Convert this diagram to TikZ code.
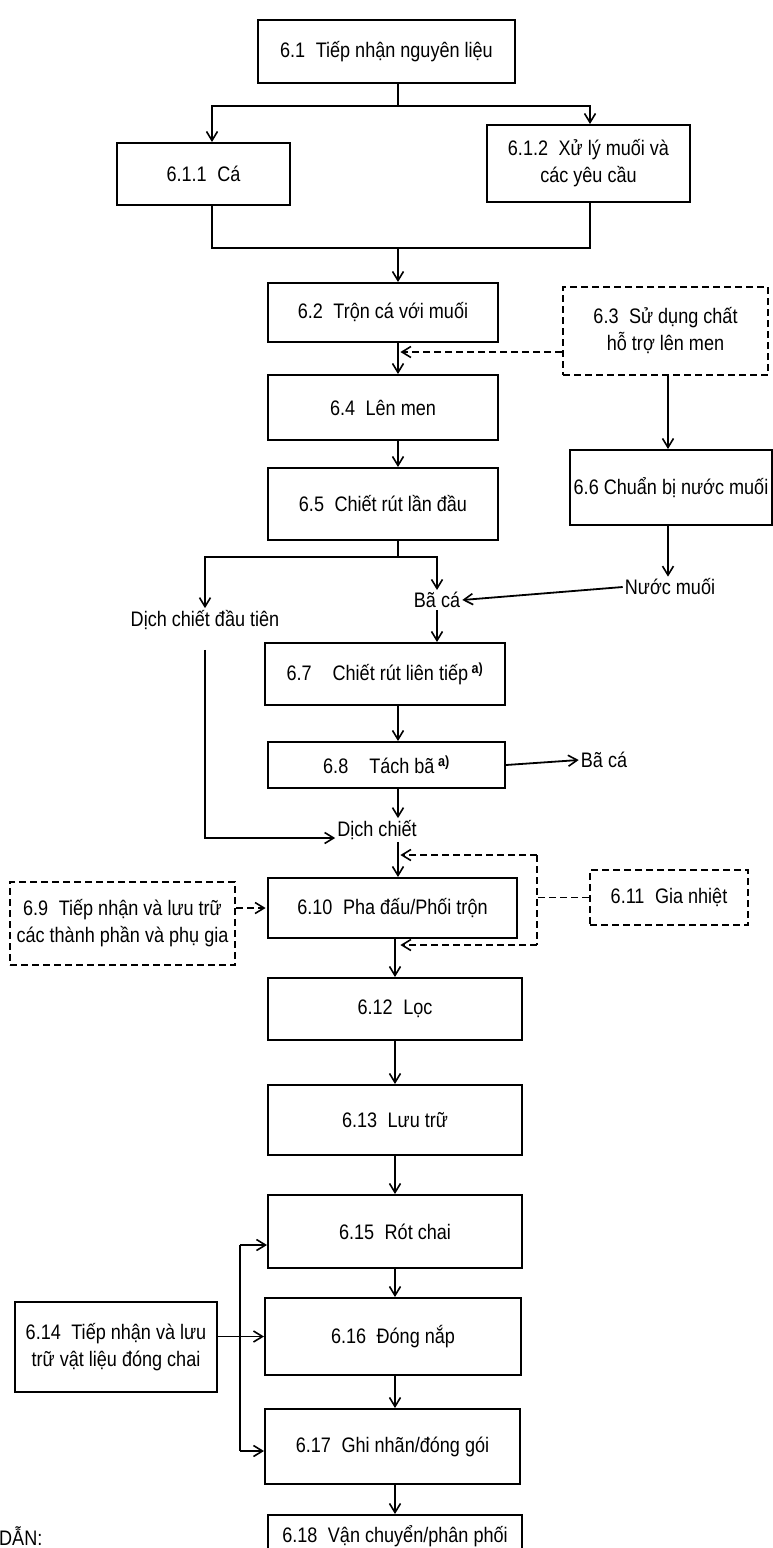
\documentclass[tikz,border=0pt]{standalone}
\usepackage{fontspec}
\setmainfont{Liberation Sans}[FakeStretch=0.86]
\usetikzlibrary{arrows.meta}
\begin{document}
\begin{tikzpicture}[x=1pt,y=1pt,
  font=\fontsize{21}{27}\selectfont,
  box/.style={draw, line width=2pt, align=center, inner sep=0pt, fill=white},
  dbox/.style={box, dash pattern=on 7pt off 4pt},
  lbl/.style={inner sep=2pt},
  conn/.style={line width=1.8pt},
  arr/.style={conn, -{Straight Barb[length=9pt,width=11pt,line width=1.6pt]}},
  dsh/.style={conn, dash pattern=on 7pt off 4pt},
  darr/.style={dsh, -{Straight Barb[length=9pt,width=11pt,line width=1.6pt,sep]}}
]
\useasboundingbox (0,0) rectangle (772,-1548);
\fill[white] (0,0) rectangle (772,-1548);

% column coordinates
\coordinate (xm) at (398,0);
\coordinate (xa) at (212,0);
\coordinate (xb) at (590,0);
\coordinate (xr) at (668,0);
\coordinate (xn) at (395,0);

% nodes
\node[box, minimum width=257pt, minimum height=63pt] (n61) at (386.5,-51.5) {6.1\enspace Tiếp nhận nguyên liệu};
\node[box, minimum width=173pt, minimum height=62pt] (n611) at (203.5,-174) {6.1.1\enspace Cá};
\node[box, minimum width=203pt, minimum height=77pt] (n612) at (588.5,-163.5) {6.1.2\enspace Xử lý muối và\\các yêu cầu};
\node[box, minimum width=230pt, minimum height=59pt] (n62) at (383,-312.5) {6.2\enspace Trộn cá với muối};
\node[dbox, minimum width=205pt, minimum height=88pt] (n63) at (665.5,-331) {6.3\enspace Sử dụng chất\\hỗ trợ lên men};
\node[box, minimum width=230pt, minimum height=65pt] (n64) at (383,-407.5) {6.4\enspace Lên men};
\node[box, minimum width=230pt, minimum height=72pt] (n65) at (383,-504) {6.5\enspace Chiết rút lần đầu};
\node[box, minimum width=202pt, minimum height=75pt] (n66) at (671,-487.5) {6.6 Chuẩn bị nước muối};
\node[lbl] (nuoc) at (670,-587) {Nước muối};
\node[lbl] (baca1) at (437,-600) {Bã cá};
\node[lbl] (dcdt) at (205,-620) {Dịch chiết đầu tiên};
\node[box, minimum width=240pt, minimum height=62pt] (n67) at (385,-674) {6.7\quad Chiết rút liên tiếp\,\textsuperscript{\bfseries a)}};
\node[box, minimum width=237pt, minimum height=46pt] (n68) at (386.5,-765) {6.8\quad Tách bã\,\textsuperscript{\bfseries a)}};
\node[lbl] (baca2) at (604,-760) {Bã cá};
\node[lbl] (dc) at (377,-830) {Dịch chiết};
\node[box, minimum width=249pt, minimum height=60pt] (n610) at (392.5,-908) {6.10\enspace Pha đấu/Phối trộn};
\node[dbox, minimum width=225pt, minimum height=83pt] (n69) at (122.5,-923.5) {6.9\enspace Tiếp nhận và lưu trữ\\các thành phần và phụ gia};
\node[dbox, minimum width=158pt, minimum height=55pt] (n611b) at (669,-897.5) {6.11\enspace Gia nhiệt};
\node[box, minimum width=254pt, minimum height=62pt] (n612b) at (395,-1009) {6.12\enspace Lọc};
\node[box, minimum width=254pt, minimum height=70pt] (n613) at (395,-1120) {6.13\enspace Lưu trữ};
\node[box, minimum width=254pt, minimum height=73pt] (n615) at (395,-1231.5) {6.15\enspace Rót chai};
\node[box, minimum width=256pt, minimum height=77pt] (n616) at (393,-1336.5) {6.16\enspace Đóng nắp};
\node[box, minimum width=255pt, minimum height=75pt] (n617) at (392.5,-1446.5) {6.17\enspace Ghi nhãn/đóng gói};
\node[box, minimum width=254pt, minimum height=64pt] (n618) at (395,-1547) {};
\node (t618) at (395,-1536) {6.18\enspace Vận chuyển/phân phối};
\node[box, minimum width=202pt, minimum height=90pt] (n614) at (116,-1347) {6.14\enspace Tiếp nhận và lưu\\trữ vật liệu đóng chai};
\node[anchor=base west, inner sep=0pt] (dan) at (-1,-1545) {DẪN:};

% top split and merge
\coordinate (j1) at (398,-106);
\coordinate (j2) at (398,-248);
\draw[conn] (n61.south -| xm) -- (j1);
\draw[arr] (j1) -| (n611.north -| xa);
\draw[arr] (j1) -| (n612.north -| xb);
\draw[conn] (n611.south -| xa) |- (j2);
\draw[conn] (n612.south -| xb) |- (j2);
\draw[arr] (j2) -- (n62.north -| xm);

% main column upper
\draw[arr] (n62.south -| xm) -- (n64.north -| xm);
\draw[arr] (n64.south -| xm) -- (n65.north -| xm);
\coordinate (d1) at (399,-352);
\draw[darr] (n63.west |- d1) -- (d1);

% right column
\draw[arr] (n63.south -| xr) -- (n66.north -| xr);
\draw[arr] (n66.south -| xr) -- (nuoc.north -| xr);
\draw[arr] (nuoc.west) -- (baca1.east);

% split after 6.5
\coordinate (j3) at (398,-557);
\draw[conn] (n65.south -| xm) -- (j3);
\draw[arr] (j3) -| (dcdt.north);
\draw[arr] (j3) -| (baca1.north);
\draw[arr] (baca1.south) -- (n67.north -| baca1);
\draw[arr] (n67.south -| xm) -- (n68.north -| xm);
\draw[arr] (n68.east) -- (baca2.west);
\draw[arr] (n68.south -| xm) -- (dc.north -| xm);
\coordinate (dcl) at (205,-838);
\draw[arr] ([yshift=-18pt]dcdt.south) -- (dcl) -- (dcl -| dc.west);
\draw[arr] (dc.south -| xm) -- (n610.north -| xm);

% heating loop
\coordinate (lt) at (537,-855);
\coordinate (lb) at (537,-945);
\draw[dsh] (lt) -- (lb);
\draw[dsh] (n611b.west) -- (n611b.west -| lt);
\draw[darr] (lt) -- (lt -| d1);
\draw[darr] (lb) -- (lb -| d1);
\draw[darr] (n69.east |- n610.west) -- (n610.west);

% lower column
\draw[arr] (n610.south -| xn) -- (n612b.north -| xn);
\draw[arr] (n612b.south -| xn) -- (n613.north -| xn);
\draw[arr] (n613.south -| xn) -- (n615.north -| xn);
\draw[arr] (n615.south -| xn) -- (n616.north -| xn);
\draw[arr] (n616.south -| xn) -- (n617.north -| xn);
\draw[arr] (n617.south -| xn) -- (n618.north -| xn);

% packaging materials
\coordinate (vt) at (240,-1245);
\coordinate (vb) at (240,-1451);
\draw[arr] (n614.east |- n616.west) -- (n616.west);
\draw[conn] (vt) -- (vb);
\draw[arr] (vt) -- (vt -| n615.west);
\draw[arr] (vb) -- (vb -| n617.west);
\end{tikzpicture}
\end{document}
